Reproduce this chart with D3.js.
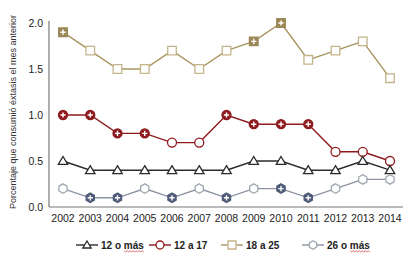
<!DOCTYPE html>
<html>
<head>
<meta charset="utf-8">
<script src="https://cdn.jsdelivr.net/npm/d3@7"></script>
<style>
  body { margin: 0; background: #fff; }
  text { font-family: "Liberation Sans", Arial, sans-serif; }
</style>
</head>
<body>
<div id="chart"></div>
<script>
// data
var years = [2002, 2003, 2004, 2005, 2006, 2007, 2008, 2009, 2010, 2011, 2012, 2013, 2014];
var yTicks = [0, 0.5, 1.0, 1.5, 2.0];
var seriesNames = ["12 o más", "12 a 17", "18 a 25", "26 o más"];
var v12mas = [0.5, 0.4, 0.4, 0.4, 0.4, 0.4, 0.4, 0.5, 0.5, 0.4, 0.4, 0.5, 0.4];
var v12a17 = [1.0, 1.0, 0.8, 0.8, 0.7, 0.7, 1.0, 0.9, 0.9, 0.9, 0.6, 0.6, 0.5];
var v18a25 = [1.9, 1.7, 1.5, 1.5, 1.7, 1.5, 1.7, 1.8, 2.0, 1.6, 1.7, 1.8, 1.4];
var v26mas = [0.2, 0.1, 0.1, 0.2, 0.1, 0.2, 0.1, 0.2, 0.2, 0.1, 0.2, 0.3, 0.3];
// years marked with a "+" (filled marker)
var sig12a17 = [2002, 2003, 2004, 2005, 2008, 2009, 2010, 2011];
var sig18a25 = [2002, 2009, 2010];
var sig26mas = [2003, 2004, 2006, 2008, 2010, 2011];

var W = 403, H = 258;
var margin = {left: 49, top: 23, bottom: 51};

var svg = d3.select("#chart").append("svg")
  .attr("width", W).attr("height", H);

var x = d3.scaleLinear().domain([2002, 2014]).range([63, 390]);
var y = d3.scaleLinear().domain([0, 2]).range([H - margin.bottom, margin.top]);

// axes lines
svg.append("line").attr("x1", margin.left).attr("x2", margin.left)
  .attr("y1", 21).attr("y2", y(0)).attr("stroke", "#777").attr("stroke-width", 1.2);
svg.append("line").attr("x1", margin.left).attr("x2", 403)
  .attr("y1", y(0)).attr("y2", y(0)).attr("stroke", "#777").attr("stroke-width", 1.2);

svg.selectAll(".ytick").data(yTicks).enter().append("text")
  .attr("x", 43).attr("y", function(d) { return y(d) + 4; })
  .attr("text-anchor", "end").attr("font-size", 10.5).attr("fill", "#222")
  .text(function(d) { return d.toFixed(1); });

svg.selectAll(".xtick").data(years).enter().append("text")
  .attr("x", function(d) { return x(d); }).attr("y", 222)
  .attr("text-anchor", "middle").attr("font-size", 10.5).attr("fill", "#222")
  .text(function(d) { return d; });

svg.append("text")
  .attr("transform", "translate(16," + ((21 + y(0)) / 2 - 2) + ") rotate(-90)")
  .attr("text-anchor", "middle").attr("font-size", 9).attr("fill", "#333")
  .text("Porcentaje que consumió éxtasis el mes anterior");

var series = [
  {name: seriesNames[0], values: v12mas, sig: [], line: "#2b2b2b", stroke: "#2b2b2b", fill: "#2b2b2b", shape: "tri"},
  {name: seriesNames[1], values: v12a17, sig: sig12a17, line: "#8e1b1f", stroke: "#8e1b1f", fill: "#8e1b1f", shape: "circle"},
  {name: seriesNames[2], values: v18a25, sig: sig18a25, line: "#a8955f", stroke: "#c3b48a", fill: "#9c8856", shape: "square"},
  {name: seriesNames[3], values: v26mas, sig: sig26mas, line: "#8a92a3", stroke: "#a0a6b2", fill: "#4d5b78", shape: "hex"}
];

function shapePath(shape, r) {
  if (shape === "tri") return "M0," + (-r) + "L" + (r * 1.05) + "," + (r * 0.75) + "L" + (-r * 1.05) + "," + (r * 0.75) + "Z";
  if (shape === "square") return "M" + (-r) + "," + (-r) + "h" + (2 * r) + "v" + (2 * r) + "h" + (-2 * r) + "Z";
  if (shape === "hex") {
    var p = [];
    for (var i = 0; i < 6; i++) {
      var a = Math.PI / 3 * i - Math.PI / 2;
      p.push((r * 1.05 * Math.cos(a)).toFixed(2) + "," + (r * 1.05 * Math.sin(a)).toFixed(2));
    }
    return "M" + p.join("L") + "Z";
  }
  return d3.symbol().type(d3.symbolCircle).size(Math.PI * r * r)();
}

function drawMarker(g, s, filled, r) {
  g.append("path").attr("d", shapePath(s.shape, r))
    .attr("fill", filled ? s.fill : "#fff")
    .attr("stroke", filled ? s.fill : s.stroke)
    .attr("stroke-width", 1.3);
  if (filled) {
    g.append("path").attr("d", "M-2.6,0H2.6M0,-2.6V2.6")
      .attr("stroke", "#fff").attr("stroke-width", 1.4);
  }
}

var line = d3.line()
  .x(function(d, i) { return x(years[i]); })
  .y(function(d) { return y(d); });

// draw lower series last so order matches reference
var drawOrder = [2, 1, 0, 3];
drawOrder.forEach(function(k) {
  var s = series[k];
  svg.append("path").datum(s.values)
    .attr("d", line).attr("fill", "none")
    .attr("stroke", s.line).attr("stroke-width", 1.4);
  s.values.forEach(function(v, i) {
    var g = svg.append("g").attr("transform", "translate(" + x(years[i]) + "," + y(v) + ")");
    drawMarker(g, s, s.sig.indexOf(years[i]) >= 0, s.shape === "square" ? 4.3 : 4.5);
  });
});

// legend
var legendX = [76, 149, 221, 302];
series.forEach(function(s, i) {
  var lx = legendX[i], ly = 245;
  svg.append("line").attr("x1", lx).attr("x2", lx + 22).attr("y1", ly).attr("y2", ly)
    .attr("stroke", s.line).attr("stroke-width", 1.4);
  var g = svg.append("g").attr("transform", "translate(" + (lx + 11) + "," + ly + ")");
  drawMarker(g, s, false, 4);
  var t = svg.append("text").attr("x", lx + 25).attr("y", ly + 3.5)
    .attr("font-size", 10).attr("font-weight", "bold").attr("fill", "#222")
    .text(s.name);
  if (s.name.indexOf("más") >= 0) {
    var bb = t.node().getBBox();
    var w = t.node().getSubStringLength(s.name.length - 3, 3);
    var sx = bb.x + bb.width - w;
    var pts = [];
    for (var k = 0; k <= Math.round(w / 1.5); k++) pts.push([sx + k * 1.5, ly + 6 + (k % 2 ? 0.8 : -0.2)]);
    svg.append("path").attr("d", d3.line()(pts)).attr("fill", "none")
      .attr("stroke", "#d23030").attr("stroke-width", 0.7);
  }
});
</script>
</body>
</html>
